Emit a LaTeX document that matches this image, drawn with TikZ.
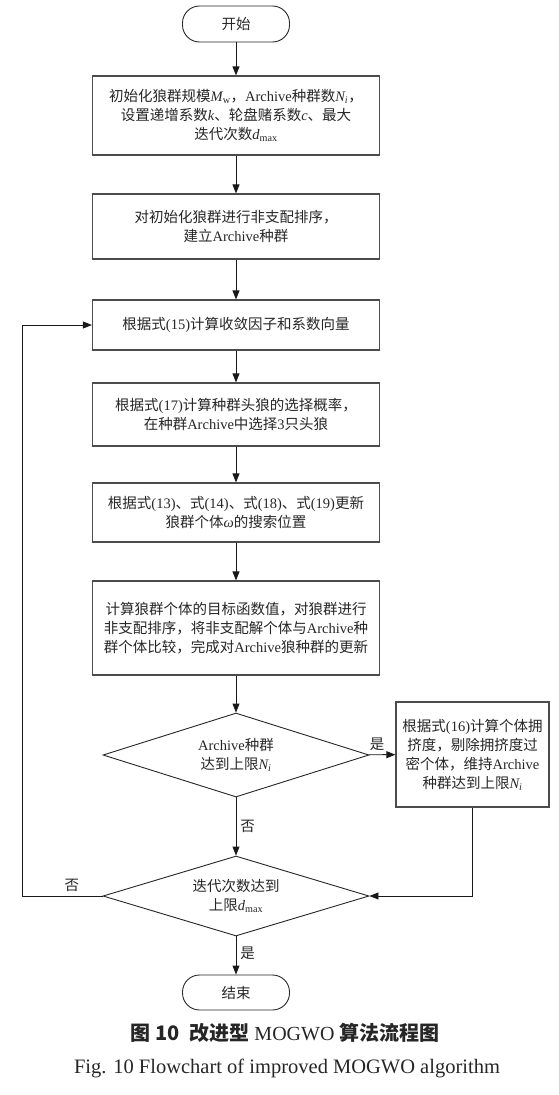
\documentclass[tikz,border=0pt]{standalone}
\usepackage{fontspec}
\setmainfont{Noto Sans CJK SC}
\newfontfamily\timesf{Liberation Serif}
\usetikzlibrary{shapes.geometric,arrows.meta}
\newcommand\ltn[1]{{\timesf #1}}
\newcommand\mi[1]{{\timesf\itshape #1}}
\newcommand\subx[1]{\textsubscript{\timesf #1}}
\begin{document}
\begin{tikzpicture}[x=1pt,y=-1pt,
 every node/.style={font=\fontsize{14.5}{19}\selectfont, text=black!85},
 proc/.style={draw=black!70, line width=1.2pt, minimum width=287pt, align=center, inner sep=0pt},
 term/.style={draw=black!85, line width=0.9pt, rounded corners=17pt, minimum width=107pt, minimum height=36pt, inner sep=0pt},
 dec/.style={diamond, aspect=3.2, draw=black!85, line width=0.9pt, minimum width=266pt, minimum height=84pt, align=center, inner sep=0pt},
 arr/.style={draw=black!90, line width=0.9pt, -{Triangle[length=9pt,width=7pt]}},
 lab/.style={inner sep=1pt}]
\useasboundingbox (0,0) rectangle (558,1095);

\node[term] (start) at (236,24) {开始};
\node[proc, minimum height=79pt] (b1) at (236,115.5) {初始化狼群规模\mi{M}\subx{w}，\ltn{Archive}种群数\mi{N}\subx{\itshape i}，\\设置递增系数\mi{k}、轮盘赌系数\mi{c}、最大\\迭代次数\mi{d}\subx{max}};
\node[proc, minimum height=65pt] (b2) at (236,226.5) {对初始化狼群进行非支配排序，\\建立\ltn{Archive}种群};
\node[proc, minimum height=50pt] (b3) at (236,325) {根据式\ltn{(15)}计算收敛因子和系数向量};
\node[proc, minimum height=63pt] (b4) at (236,414.5) {根据式\ltn{(17)}计算种群头狼的选择概率，\\在种群\ltn{Archive}中选择\ltn{3}只头狼};
\node[proc, minimum height=59pt] (b5) at (236,512.5) {根据式\ltn{(13)}、式\ltn{(14)}、式\ltn{(18)}、式\ltn{(19)}更新\\狼群个体\mi{ω}的搜索位置};
\node[proc, minimum height=94pt] (b6) at (236,628) {计算狼群个体的目标函数值，对狼群进行\\非支配排序，将非支配解个体与\ltn{Archive}种\\群个体比较，完成对\ltn{Archive}狼种群的更新};
\node[dec] (d1) at (236,755) {\ltn{Archive}种群\\达到上限\mi{N}\subx{\itshape i}};
\node[proc, minimum width=153pt, minimum height=105pt] (b7) at (472.5,754.5) {根据式\ltn{(16)}计算个体拥\\挤度，剔除拥挤度过\\密个体，维持\ltn{Archive}\\种群达到上限\mi{N}\subx{\itshape i}};
\node[dec, minimum height=80pt] (d2) at (236,896) {迭代次数达到\\上限\mi{d}\subx{max}};
\node[term, minimum height=35pt] (end) at (236,992.5) {结束};
\coordinate (lp) at (22,896);

\draw[arr] (start) -- (b1);
\draw[arr] (b1) -- (b2);
\draw[arr] (b2) -- (b3);
\draw[arr] (b3) -- (b4);
\draw[arr] (b4) -- (b5);
\draw[arr] (b5) -- (b6);
\draw[arr] (b6) -- (d1);
\draw[arr] (d1) -- node[lab, above=3pt, pos=0.32] {是} (b7);
\draw[arr] (d1) -- node[lab, right=3pt, pos=0.5] {否} (d2);
\draw[arr] (b7) |- (d2.east);
\draw[arr] (d2.west) -- node[lab, above=3pt, pos=0.38] {否} (lp) |- (b3.west);
\draw[arr] (d2) -- node[lab, right=3pt, pos=0.45] {是} (end);

\node (cap1) at (285,1033) {\fontsize{20}{23}\selectfont\bfseries 图 10\hspace{0.5em}改进型 \ltn{\mdseries MOGWO} 算法流程图};
\node (cap2) at (287,1068) {\timesf\fontsize{20.5}{23}\selectfont Fig. 10 Flowchart of improved MOGWO algorithm};
\end{tikzpicture}
\end{document}
